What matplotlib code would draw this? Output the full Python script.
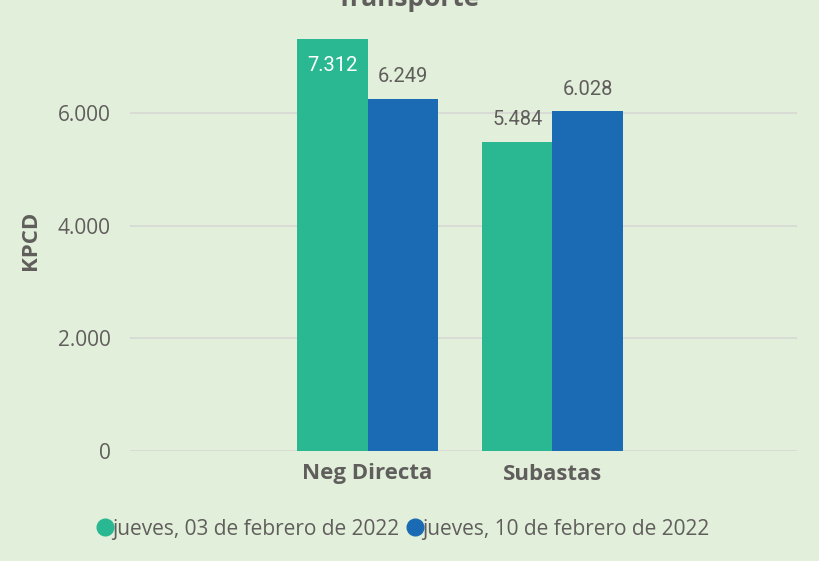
import matplotlib

matplotlib.use("Agg")
import matplotlib.pyplot as plt
import matplotlib.ticker as mticker
from matplotlib.lines import Line2D
import numpy as np

plt.rcParams["font.family"] = ["Open Sans", "DejaVu Sans"]

# data
categories = ["Neg Directa", "Subastas"]
series_names = ["jueves, 03 de febrero de 2022", "jueves, 10 de febrero de 2022"]
vals_feb03 = [7312, 5484]
vals_feb10 = [6249, 6028]
y_ticks = [0, 2000, 4000, 6000]

BG = "#e2efda"
GREEN = "#2ab893"
BLUE = "#1a6bb4"
GRAY = "#605e5c"

fig = plt.figure(figsize=(8.19, 5.61), dpi=100, facecolor=BG)
ax = fig.add_axes([130 / 819, 1 - 451 / 561, 667 / 819, 421 / 561])
ax.set_facecolor(BG)

x = np.arange(len(categories))
w = 0.381
b1 = ax.bar(x - w / 2, vals_feb03, w, color=GREEN, zorder=3)
b2 = ax.bar(x + w / 2, vals_feb10, w, color=BLUE, zorder=3)

ax.set_xlim(-1.284, 2.322)
ax.set_ylim(0, 7471)


def fmt(v):
    return f"{v:,}".replace(",", ".")


for bars in (b1, b2):
    for rect in bars:
        h = rect.get_height()
        cx = rect.get_x() + rect.get_width() / 2
        if h > 7000:
            ax.annotate(fmt(h), (cx, h), xytext=(0, -19), textcoords="offset points",
                        ha="center", va="center", color="white", fontsize=14.5,
                        family=["Roboto", "DejaVu Sans"])
        else:
            ax.annotate(fmt(h), (cx, h), xytext=(0, 16), textcoords="offset points",
                        ha="center", va="center", color=GRAY, fontsize=14.5,
                        family=["Roboto", "DejaVu Sans"])

ax.set_yticks(y_ticks)
ax.yaxis.set_major_formatter(mticker.FuncFormatter(lambda v, _: fmt(int(v))))
ax.grid(axis="y", color="#d6d9d4", lw=1.2, zorder=0)
ax.tick_params(axis="y", length=0, pad=14, labelsize=15, labelcolor=GRAY)
ax.set_xticks(x)
ax.set_xticklabels(categories, fontsize=16, fontweight="bold", color=GRAY)
ax.tick_params(axis="x", length=0, pad=9)
for s in ax.spines.values():
    s.set_visible(False)

ax.set_ylabel("KPCD", fontsize=16, fontweight="bold", color=GRAY, labelpad=12)

fig.text(408 / 819, 1 - 6 / 561, "Transporte", ha="center", va="baseline",
         fontsize=19, fontweight="bold", color=GRAY)

handles = [Line2D([], [], marker="o", ls="none", markersize=12, color=c)
           for c in (GREEN, BLUE)]
fig.legend(handles, series_names, loc="center", bbox_to_anchor=(402 / 819, 1 - 529 / 561),
           ncol=2, frameon=False, fontsize=15, labelcolor=GRAY,
           handletextpad=-0.2, columnspacing=0.3, handlelength=1.0)

fig.savefig("out.png", dpi=100, facecolor=BG)
